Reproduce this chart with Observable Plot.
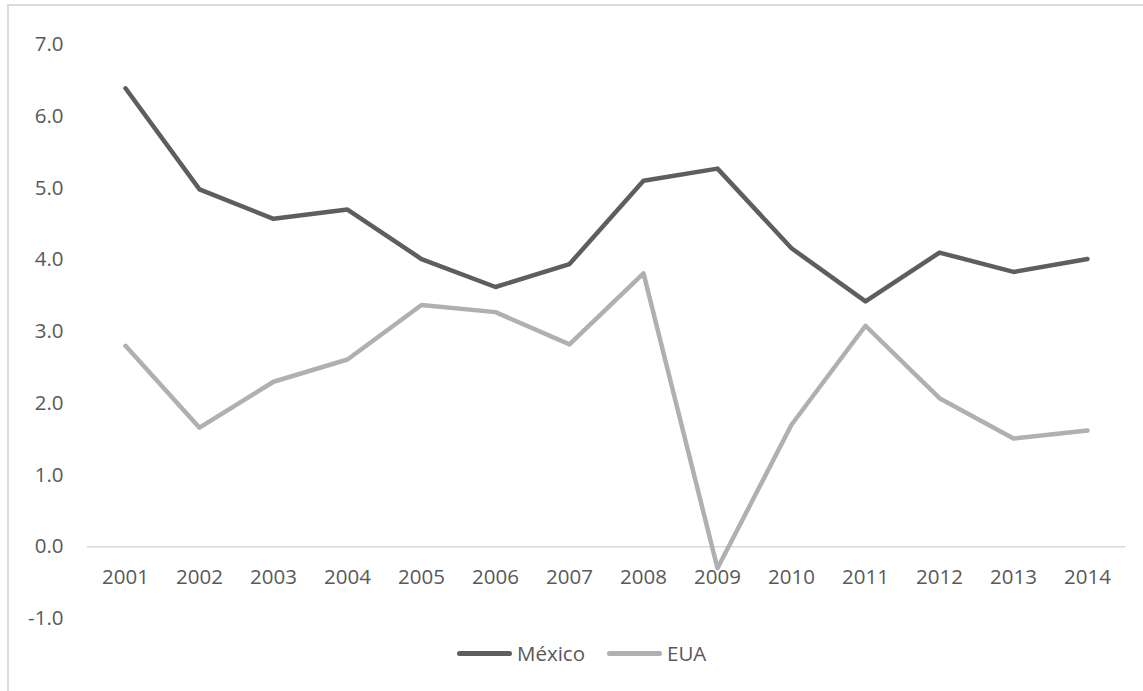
<!DOCTYPE html>
<html>
<head>
<meta charset="utf-8">
<script src="https://cdn.jsdelivr.net/npm/d3@7"></script>
<script src="https://cdn.jsdelivr.net/npm/@observablehq/plot@0.6"></script>
<style>
  html, body { margin: 0; padding: 0; background: #fff; }
  #wrap { position: relative; width: 1143px; height: 691px; overflow: hidden; font-family: "Open Sans", sans-serif; }
  #frame { position: absolute; left: 7px; top: 4px; right: -10px; bottom: -10px; border-top: 2px solid #dcdcdc; border-left: 2px solid #dcdcdc; pointer-events: none; }
  #chart svg { display: block; }
  #legend { position: absolute; left: 457px; top: 630px; height: 46px; display: flex; align-items: center; font-size: 20.5px; color: #595959; }
  .sw { display: inline-block; width: 55px; height: 5px; border-radius: 3px; margin-right: 5px; }
  .item { display: flex; align-items: center; margin-right: 22px; }
</style>
</head>
<body>
<div id="wrap">
  <div id="chart"></div>
  <div id="legend"></div>
  <div id="frame"></div>
</div>
<script>
const years = [2001, 2002, 2003, 2004, 2005, 2006, 2007, 2008, 2009, 2010, 2011, 2012, 2013, 2014];
const mexico = [6.39, 4.98, 4.57, 4.70, 4.01, 3.62, 3.94, 5.10, 5.27, 4.16, 3.42, 4.10, 3.83, 4.01];
const eua = [2.80, 1.66, 2.30, 2.61, 3.37, 3.27, 2.82, 3.81, -0.30, 1.70, 3.08, 2.07, 1.51, 1.62];
const seriesNames = ["México", "EUA"];
const seriesColors = ["#5e5e5e", "#b0b0b0"];
const yTicks = [-1, 0, 1, 2, 3, 4, 5, 6, 7];

const rows = [];
years.forEach((y, i) => {
  rows.push({year: y, value: mexico[i], series: seriesNames[0]});
  rows.push({year: y, value: eua[i], series: seriesNames[1]});
});

const chart = Plot.plot({
  width: 1143,
  height: 630,
  marginLeft: 87,
  marginRight: 18,
  marginTop: 44,
  marginBottom: 12,
  style: {fontFamily: "Open Sans, sans-serif", fontSize: "20.5px", color: "#595959", background: "transparent"},
  x: {type: "point", domain: years, padding: 0.5, axis: null},
  y: {domain: [-1, 7], axis: null},
  color: {domain: seriesNames, range: seriesColors},
  marks: [
    Plot.ruleY([0], {stroke: "#d9d9d9", strokeWidth: 1.3}),
    Plot.axisY({ticks: yTicks, tickFormat: d => d.toFixed(1), tickSize: 0, tickPadding: 24, label: null, fill: "#595959"}),
    Plot.text(years, {x: d => d, y: () => 0, text: d => String(d), dy: 31, fill: "#595959"}),
    Plot.line(rows, {x: "year", y: "value", z: "series", stroke: "series", strokeWidth: 4.5, strokeLinecap: "round", strokeLinejoin: "round"})
  ]
});
document.getElementById("chart").appendChild(chart);

const legend = document.getElementById("legend");
seriesNames.forEach((name, i) => {
  const item = document.createElement("div");
  item.className = "item";
  const sw = document.createElement("span");
  sw.className = "sw";
  sw.style.background = seriesColors[i];
  const label = document.createElement("span");
  label.textContent = name;
  item.appendChild(sw);
  item.appendChild(label);
  legend.appendChild(item);
});
</script>
</body>
</html>
